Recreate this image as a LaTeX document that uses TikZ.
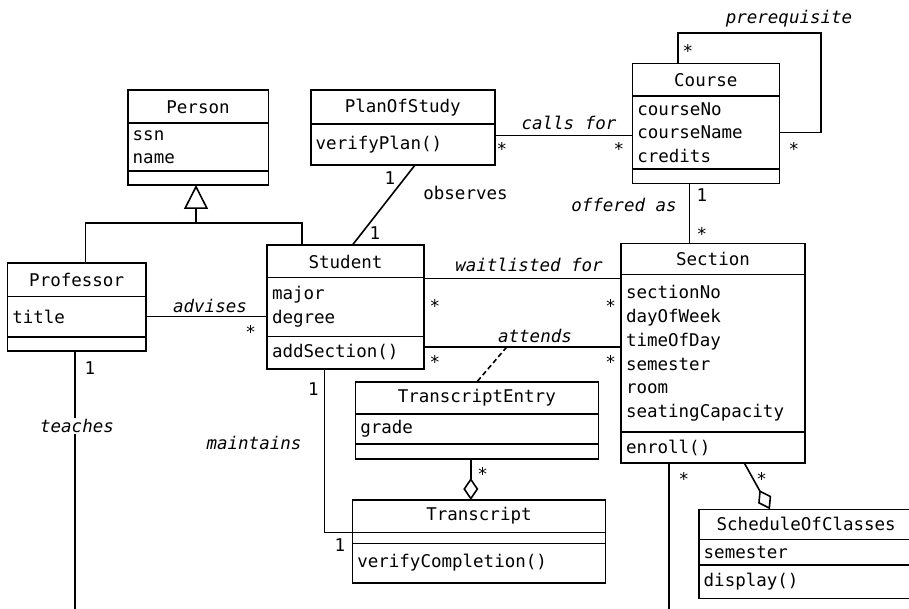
\documentclass[tikz,border=0pt]{standalone}
\usepackage{fontspec}
\newfontfamily\umlfont{DejaVu Sans Mono}
\newcommand{\umlsize}{\fontsize{17.5}{23.8}\selectfont}
\usetikzlibrary{arrows.meta,positioning,calc}
\tikzset{
  cls/.style={draw, line width=1.6pt, outer sep=0pt, inner xsep=5pt, inner ysep=2pt,
              font=\umlfont\umlsize},
  head/.style 2 args={cls, minimum width=#1, minimum height=#2, anchor=north west},
  comp/.style 2 args={cls, text width=#1-10pt, minimum height=#2, align=left},
  blank/.style 2 args={cls, inner sep=0pt, minimum width=#1, minimum height=#2},
  assoc/.style={line width=1.6pt},
  link/.style={line width=1.6pt, dash pattern=on 5pt off 3pt},
  inherit/.style={line width=1.6pt, -{Triangle[open, length=24pt, width=24pt]}},
  aggr/.style={line width=1.6pt, -{Diamond[open, length=22pt, width=15pt]}},
  lbl/.style={font=\umlfont\itshape\umlsize, inner sep=1pt},
  plain/.style={font=\umlfont\umlsize, inner sep=1pt},
  one/.style={plain},
  many/.style={plain, yshift=-4pt}
}
\begin{document}
\begin{tikzpicture}[x=1pt, y=-1pt]
  \useasboundingbox (0,0) rectangle (909,609);
  \clip (0,0) rectangle (909,609);

  % classes
  \node[head={140.6pt}{33pt}] (person) at (127.7,90.3) {Person};
  \node[comp={140.6pt}{47.7pt}, below=0pt of person] (person-a) {ssn\\name};
  \node[blank={140.6pt}{14pt}, below=0pt of person-a] (person-o) {};

  \node[head={184pt}{34.3pt}] (plan) at (310.7,90) {PlanOfStudy};
  \node[comp={184pt}{40.7pt}, below=0pt of plan] (plan-o) {verifyPlan()};

  \node[head={147pt}{32.6pt}] (course) at (632.3,63.7) {Course};
  \node[comp={147pt}{72.7pt}, below=0pt of course] (course-a) {courseNo\\courseName\\credits};
  \node[blank={147pt}{14.7pt}, below=0pt of course-a] (course-o) {};

  \node[head={138.7pt}{33pt}] (prof) at (7.3,263.3) {Professor};
  \node[comp={138.7pt}{40.7pt}, below=0pt of prof] (prof-a) {title};
  \node[blank={138.7pt}{14pt}, below=0pt of prof-a] (prof-o) {};

  \node[head={157pt}{32.4pt}] (student) at (267,245.3) {Student};
  \node[comp={157pt}{58.6pt}, below=0pt of student] (student-a) {major\\degree};
  \node[comp={157pt}{32.4pt}, below=0pt of student-a] (student-o) {addSection()};

  \node[head={184pt}{31pt}] (section) at (621,243.7) {Section};
  \node[comp={184pt}{157.3pt}, below=0pt of section] (section-a)
    {sectionNo\\dayOfWeek\\timeOfDay\\semester\\room\\seatingCapacity};
  \node[comp={184pt}{31pt}, below=0pt of section-a] (section-o) {enroll()};

  \node[head={243pt}{32pt}] (entry) at (355.3,382) {TranscriptEntry};
  \node[comp={243pt}{29.7pt}, below=0pt of entry] (entry-a) {grade};
  \node[blank={243pt}{15.3pt}, below=0pt of entry-a] (entry-o) {};

  \node[head={253.3pt}{32.3pt}] (transcript) at (352.3,500) {Transcript};
  \node[blank={253.3pt}{11pt}, below=0pt of transcript] (transcript-a) {};
  \node[comp={253.3pt}{39.4pt}, below=0pt of transcript-a] (transcript-o) {verifyCompletion()};

  \node[head={215pt}{30pt}] (schedule) at (698.7,509.3) {ScheduleOfClasses};
  \node[comp={215pt}{25.7pt}, below=0pt of schedule] (schedule-a) {semester};
  \node[comp={215pt}{33.3pt}, below=0pt of schedule-a] (schedule-o) {display()};

  % generalization
  \coordinate (gen) at (196,223.3);
  \coordinate (genL) at (85.3,223.3);
  \coordinate (genR) at (301.7,223.3);
  \draw[assoc] (prof.north -| genL) |- (genR) -- (student.north -| genR);
  \draw[inherit] (gen) -- (person-o.south -| gen);

  % associations
  \draw[assoc] ($(plan-o.south west)!0.567!(plan-o.south east)$)
    -- ($(student.north west)!0.543!(student.north east)$);
  \coordinate (calls) at ($(course-a.west)+(0,3)$);
  \draw[assoc] (calls -| plan-o.east) -- (calls);
  \draw[assoc] ($(course.north west)+(45.4,0)$) -- ++(0,-30.4)
    -| ($(course-a.east)+(41.4,0)$) -- (course-a.east);
  \coordinate (offer) at ($(course-o.south)+(-16.5,0)$);
  \draw[assoc] (offer) -- (offer |- section.north);
  \draw[assoc] (prof-a.east) -- (prof-a.east -| student-a.west);
  \coordinate (wait) at ($(student-a.north east)+(0,1)$);
  \draw[assoc] (wait) -- (wait -| section-a.west);
  \coordinate (att) at ($(student-o.north east)+(0,10.7)$);
  \draw[assoc] (att) -- (att -| section-a.west);
  \draw[link] ($(att)!0.42!(att -| section-a.west)$) -- (entry.north);
  \coordinate (teachEnd) at (75,615);
  \draw[assoc] (prof-o.south -| teachEnd) -- (teachEnd);
  \draw[assoc] ($(student-o.south)+(-21.2,0)$) |- (transcript.south west);
  \coordinate (holds) at ($(entry-o.south)+(-6,0)$);
  \draw[aggr] (holds) -- (holds |- transcript.north);
  \draw[aggr] ($(section-o.south)+(31.3,0)$) -- ($(schedule.north)+(-36.2,0)$);
  \coordinate (sectEnd) at (669,615);
  \draw[assoc] (section-o.south -| sectEnd) -- (sectEnd);

  % labels
  \node[lbl] (callsfor) at (569,123) {calls for};
  \node[many] (cf1) at (502,145) {*};
  \node[many] (cf2) at (619,145) {*};
  \node[lbl] (prereq) at (789,19) {prerequisite};
  \node[many] (pr1) at (688,47) {*};
  \node[many] (pr2) at (794,145) {*};
  \node[lbl] (offered) at (624,205) {offered as};
  \node[one] (of1) at (702,195) {1};
  \node[many] (of2) at (702,230) {*};
  \node[plain] (observes) at (465.5,192.7) {observes};
  \node[one] (ob1) at (390,178) {1};
  \node[one] (ob2) at (375,233) {1};
  \node[lbl] (advises) at (210,305.7) {advises};
  \node[many] (ad1) at (250.7,328.3) {*};
  \node[lbl] (waitlisted) at (529,265) {waitlisted for};
  \node[many] (wf1) at (435,301.7) {*};
  \node[many] (wf2) at (610.7,301.7) {*};
  \node[lbl] (attends) at (535,335.7) {attends};
  \node[many] (at1) at (435,358) {*};
  \node[many] (at2) at (610.7,358) {*};
  \node[lbl, fill=white] (teaches) at (77,426) {teaches};
  \node[one] (te1) at (90,368) {1};
  \node[lbl] (maintains) at (254,442.7) {maintains};
  \node[one] (ma1) at (313.3,389) {1};
  \node[one] (ma2) at (340,545) {1};
  \node[many] (ag1) at (482.7,470) {*};
  \node[many] (se1) at (684,475) {*};
  \node[many] (sc1) at (761.7,475) {*};
\end{tikzpicture}
\end{document}
